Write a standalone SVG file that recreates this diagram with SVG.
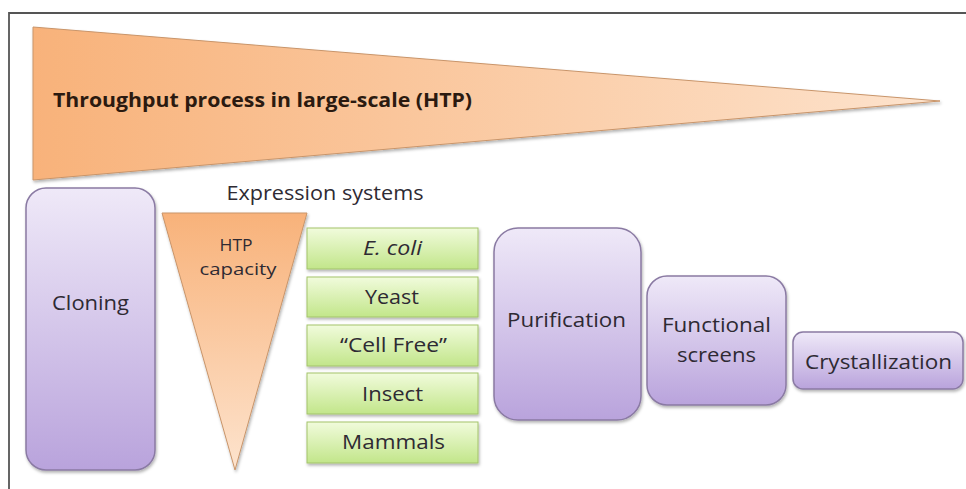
<svg xmlns="http://www.w3.org/2000/svg" width="966" height="489" viewBox="0 0 966 489">
<defs>
<linearGradient id="og" x1="0" y1="0" x2="1" y2="0"><stop offset="0" stop-color="#f8b27a"/><stop offset="1" stop-color="#fde3cd"/></linearGradient>
<linearGradient id="ogv" x1="0" y1="0" x2="0" y2="1"><stop offset="0" stop-color="#f8b27a"/><stop offset="1" stop-color="#fde3cd"/></linearGradient>
<linearGradient id="pg" x1="0" y1="0" x2="0" y2="1"><stop offset="0" stop-color="#efe9f8"/><stop offset="1" stop-color="#b9a3dc"/></linearGradient>
<linearGradient id="gg" x1="0" y1="0" x2="0" y2="1"><stop offset="0" stop-color="#f1fbdc"/><stop offset="1" stop-color="#c2e68a"/></linearGradient>
<filter id="sh" x="-10%" y="-10%" width="130%" height="130%"><feDropShadow dx="1" dy="2" stdDeviation="1.5" flood-color="#000" flood-opacity="0.3"/></filter>
</defs>
<style>
.t{font-family:"Open Sans","Liberation Sans",sans-serif;fill:#2e2a33;text-anchor:middle;font-size:20.5px}
.p{fill:url(#pg);stroke:#8a7aa3;stroke-width:1.5;filter:url(#sh)}
.g{fill:url(#gg);stroke:#a3c36b;stroke-width:1;filter:url(#sh)}
.o{stroke:#c9956a;stroke-width:1;filter:url(#sh)}
</style>
<rect width="966" height="489" fill="#fff"/>
<path d="M9 489 V13 H966" fill="none" stroke="#555" stroke-width="1.8"/>
<g id="htp-banner">
<polygon class="o" points="33,27 940,101 33,180" fill="url(#og)"/>
<text x="53" y="107" font-family="Open Sans, Liberation Sans, sans-serif" font-weight="bold" font-size="20" fill="#2b1a10" textLength="419" lengthAdjust="spacingAndGlyphs">Throughput process in large-scale (HTP)</text>
</g>
<g id="cloning">
<rect class="p" x="26" y="188" width="129" height="282" rx="20"/>
<text class="t" x="90.5" y="310" textLength="77" lengthAdjust="spacingAndGlyphs">Cloning</text>
</g>
<g id="expression-label">
<text class="t" x="325" y="200" textLength="197" lengthAdjust="spacingAndGlyphs">Expression systems</text>
</g>
<g id="htp-capacity">
<polygon class="o" points="162,213 307,213 235,470" fill="url(#ogv)"/>
<text class="t" x="236" y="251" style="font-size:16px" textLength="33" lengthAdjust="spacingAndGlyphs">HTP</text>
<text class="t" x="238" y="275" style="font-size:16px" textLength="77" lengthAdjust="spacingAndGlyphs">capacity</text>
</g>
<g id="ecoli"><rect class="g" x="307" y="228" width="171" height="41"/><text class="t" x="392.5" y="255" font-style="italic" textLength="59" lengthAdjust="spacingAndGlyphs">E. coli</text></g>
<g id="yeast"><rect class="g" x="307" y="277" width="171" height="40"/><text class="t" x="392" y="304" textLength="54" lengthAdjust="spacingAndGlyphs">Yeast</text></g>
<g id="cellfree"><rect class="g" x="307" y="325" width="171" height="41"/><text class="t" x="393.5" y="352" textLength="107" lengthAdjust="spacingAndGlyphs">“Cell Free”</text></g>
<g id="insect"><rect class="g" x="307" y="373" width="171" height="41"/><text class="t" x="392.5" y="401" textLength="61" lengthAdjust="spacingAndGlyphs">Insect</text></g>
<g id="mammals"><rect class="g" x="307" y="422" width="171" height="41"/><text class="t" x="393.5" y="449" textLength="103" lengthAdjust="spacingAndGlyphs">Mammals</text></g>
<g id="purification">
<rect class="p" x="494" y="228" width="147" height="192" rx="24"/>
<text class="t" x="566.5" y="327" textLength="119" lengthAdjust="spacingAndGlyphs">Purification</text>
</g>
<g id="functional-screens">
<rect class="p" x="647" y="276" width="139" height="129" rx="20"/>
<text class="t" x="716.5" y="332" textLength="109" lengthAdjust="spacingAndGlyphs">Functional</text>
<text class="t" x="716.5" y="362" textLength="79" lengthAdjust="spacingAndGlyphs">screens</text>
</g>
<g id="crystallization">
<rect class="p" x="793" y="332" width="170" height="57" rx="10"/>
<text class="t" x="878.5" y="369" textLength="147" lengthAdjust="spacingAndGlyphs">Crystallization</text>
</g>
<g id="connectors"/>
</svg>
